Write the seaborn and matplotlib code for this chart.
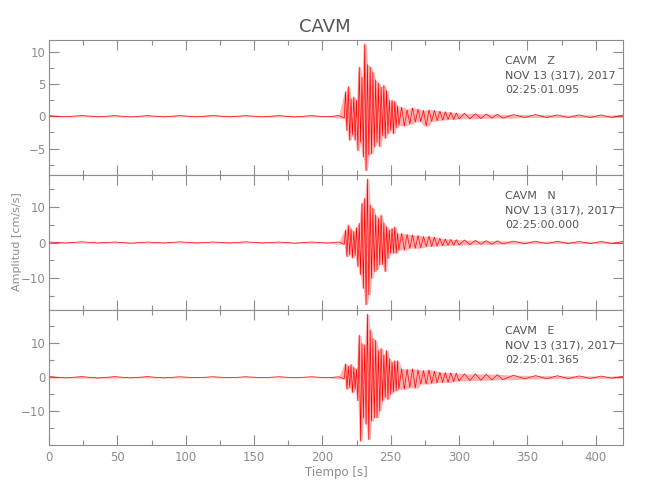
import numpy as np
import pandas as pd
import seaborn as sns
import matplotlib.pyplot as plt
from matplotlib.ticker import MultipleLocator

# sample times [s] of the trace peaks
t_peaks = [0, 12, 24, 36, 48, 60, 72, 84, 96, 108, 120, 132, 144, 156, 168, 180, 192, 204, 212,
           216, 217, 218, 219, 220, 221, 222, 223, 224, 225, 226, 227, 228, 229, 230, 231, 232,
           233, 234, 235, 236, 237, 238, 239, 240, 241, 242, 243, 244, 245, 246, 247, 248, 249,
           250, 251, 252, 253, 254, 255, 256,
           258, 260, 262, 264, 266, 268, 270, 272, 274, 276, 278, 280, 282, 284, 286, 288, 290,
           292, 294, 296, 298, 300,
           304, 308, 312, 316, 320, 324, 328, 332,
           340, 348, 356, 364, 372, 380, 388, 396, 404, 412, 420]

# peak amplitudes [cm/s/s] per component
z_peaks = [0.1, -0.1, 0.12, -0.1, 0.1, -0.12, 0.1, -0.1, 0.1, -0.1, 0.12, -0.1, 0.1, -0.1, 0.1,
           -0.12, 0.1, -0.1, 0.12,
           -0.3, 3.8, -2.2, 4.6, -3.7, 2.7, -2.9, 3.0, -3.7, 2.5, -5.3, 7.6, -4.0, 6.0, -6.3,
           11.2, -8.4, 8.0, -6.0, 7.6, -5.8, 6.8, -4.7, 5.6, -4.0, 5.1, -4.7, 4.5, -3.0, 4.8,
           -3.4, 4.0, -2.7, 2.5, -2.2, 2.5, -2.7, 2.3, -1.8, 1.6, -1.4,
           1.4, -1.5, 1.0, -1.2, 1.3, -0.9, 1.1, -0.8, 0.9, -1.5, 1.0, -0.8, 0.9, -0.7, 0.8,
           -0.6, 0.7, -0.5, 0.6, -0.5, 0.5, -0.4,
           0.45, -0.4, 0.4, -0.35, 0.35, -0.3, 0.3, -0.3,
           0.25, -0.2, 0.25, -0.2, 0.2, -0.2, 0.2, -0.2, 0.2, -0.2, 0.2]

n_peaks = [0.15, -0.15, 0.2, -0.15, 0.15, -0.2, 0.15, -0.15, 0.2, -0.15, 0.15, -0.15, 0.2, -0.15,
           0.15, -0.2, 0.15, -0.15, 0.15,
           -0.5, 3.5, -3.9, 4.9, -3.4, 3.8, -4.3, 3.1, -3.6, 4.2, -6.7, 5.4, -9.0, 11.0, -12.8,
           12.4, -17.4, 17.8, -14.6, 10.5, -10.0, 9.6, -8.1, 7.7, -7.6, 6.8, -6.2, 7.7, -6.2, 5.5,
           -8.1, 4.4, -4.4, 3.5, -3.0, 4.0, -3.0, 4.4, -3.0, 2.6, -2.1,
           2.6, -2.1, 2.3, -1.6, 2.1, -1.6, 2.0, -1.5, 1.7, -1.1, 1.8, -1.1, 1.5, -1.0, 1.2,
           -0.9, 1.0, -0.8, 0.9, -0.8, 0.8, -0.7,
           0.7, -0.6, 0.6, -0.5, 0.5, -0.5, 0.5, -0.4,
           0.4, -0.35, 0.35, -0.3, 0.35, -0.3, 0.3, -0.3, 0.3, -0.3, 0.3]

e_peaks = [0.2, -0.2, 0.2, -0.25, 0.2, -0.2, 0.2, -0.2, 0.15, -0.15, 0.15, -0.15, 0.15, -0.15,
           0.15, -0.15, 0.15, -0.15, 0.15,
           -0.5, 4.0, -3.5, 3.3, -3.0, 3.8, -4.5, 2.9, -3.5, 2.4, -6.9, 12.4, -18.8, 9.9, -11.9,
           9.5, -13.8, 18.6, -18.3, 13.9, -12.9, 11.4, -11.9, 10.9, -11.9, 7.9, -9.9, 8.5, -7.0,
           6.5, -5.9, 7.9, -6.5, 5.5, -5.0, 4.5, -4.4, 4.9, -4.0, 4.9, -3.5,
           2.5, -3.5, 2.4, -3.0, 2.5, -3.2, 2.2, -2.0, 2.0, -2.0, 2.2, -1.8, 1.8, -1.6, 1.5,
           -1.5, 1.4, -1.5, 1.3, -1.3, 1.2, -1.1,
           1.0, -1.0, 1.0, -0.9, 0.9, -0.8, 0.8, -0.7,
           0.6, -0.5, 0.5, -0.45, 0.45, -0.4, 0.4, -0.35, 0.35, -0.3, 0.3]

components = ['Z', 'N', 'E']
start_times = ['02:25:01.095', '02:25:00.000', '02:25:01.365']
date_label = 'NOV 13 (317), 2017'
station = 'CAVM'

y_limits = [(-9.1, 11.8), (-18.9, 18.9), (-19.95, 19.8)]
y_major = [5, 10, 10]

sns.set_style('ticks')
plt.rcParams['font.family'] = ['DejaVu Sans']
gray = '#8c8c8c'
text_gray = '#555555'

fig, axes = plt.subplots(3, 1, sharex=True, figsize=(6.5, 5), dpi=100)
fig.subplots_adjust(left=0.0754, right=0.9585, top=0.92, bottom=0.11, hspace=0)

for ax, comp, peaks, t0, ylim, step in zip(axes, components, [z_peaks, n_peaks, e_peaks],
                                            start_times, y_limits, y_major):
    df = pd.DataFrame({'t': t_peaks, 'amp': peaks})
    # envelope of the read peaks, drawn as a light band behind the trace
    up = df['amp'].clip(lower=0).rolling(3, center=True, min_periods=1).max()
    lo = df['amp'].clip(upper=0).rolling(3, center=True, min_periods=1).min()
    ax.fill_between(df['t'], lo, up, color='#ff0000', alpha=0.3, lw=0)
    sns.lineplot(data=df, x='t', y='amp', ax=ax, color='#ff0000', lw=0.5,
                 estimator=None, sort=False)
    ax.set_xlim(0, 420)
    ax.set_ylim(*ylim)
    ax.yaxis.set_major_locator(MultipleLocator(step))
    ax.yaxis.set_minor_locator(MultipleLocator(step / 2))
    ax.xaxis.set_major_locator(MultipleLocator(50))
    ax.xaxis.set_minor_locator(MultipleLocator(25))
    ax.tick_params(which='both', direction='in', top=True, right=True, colors=gray,
                   labelcolor=gray, labelsize=8.5, width=0.8, pad=2.5)
    ax.tick_params(which='major', length=7)
    ax.tick_params(which='minor', length=3.5)
    for sp in ax.spines.values():
        sp.set_color(gray)
        sp.set_linewidth(0.8)
    ax.set_ylabel('')
    ax.set_xlabel('')
    ax.text(334, 0.735, f'{station}   {comp}\n{date_label}\n{t0}',
            transform=ax.get_xaxis_transform(), fontsize=8, color=text_gray,
            va='center', ha='left', linespacing=1.55)

axes[-1].tick_params(axis='x', pad=4)
axes[-1].set_xlabel('Tiempo [s]', color=gray, fontsize=8.5, labelpad=2)
fig.text(0.026, 0.516, 'Amplitud [cm/s/s]', rotation=90, va='center', ha='center',
         color=gray, fontsize=8)
fig.suptitle(station, y=0.965, fontsize=13, color=text_gray)

fig.savefig('out.png', dpi=100)
